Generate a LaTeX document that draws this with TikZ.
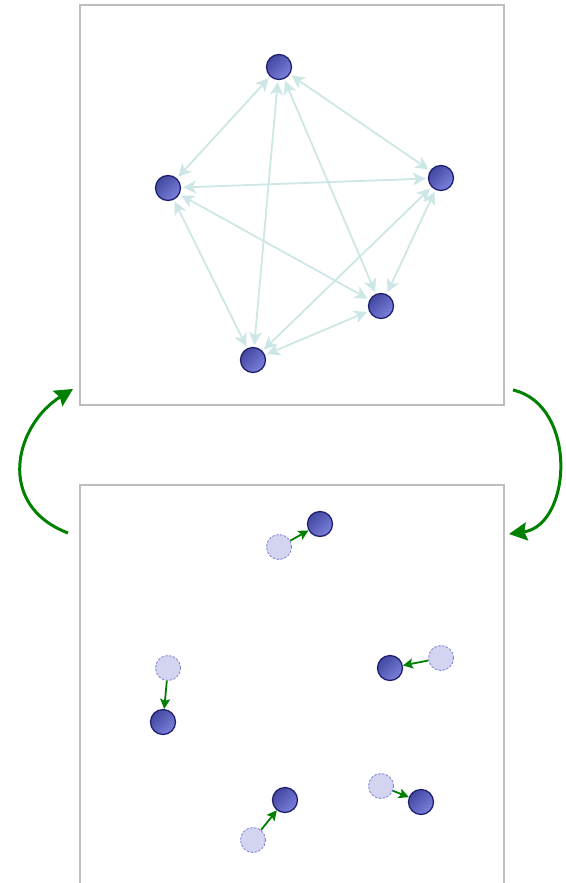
\documentclass[tikz,border=0pt]{standalone}
\usetikzlibrary{arrows.meta}
\definecolor{frame}{HTML}{BDBDBD}
\definecolor{edgec}{HTML}{CDE6E6}
\definecolor{balldark}{HTML}{4247A0}
\definecolor{balllight}{HTML}{7C82DC}
\definecolor{ballrim}{HTML}{202070}
\definecolor{ghostfill}{HTML}{D3D4F0}
\definecolor{ghostrim}{HTML}{7B7CD2}
\definecolor{grn}{HTML}{008000}
\tikzset{
  ball/.style={circle, minimum size=25pt, inner sep=0pt, draw=ballrim, line width=1.3pt,
    top color=balldark, bottom color=balllight, shading angle=45},
  ghost/.style={circle, minimum size=25pt, inner sep=0pt, draw=ghostrim, line width=0.8pt,
    dash pattern=on 2.5pt off 1.5pt, fill=ghostfill},
  frm/.style={draw=frame, line width=2pt},
  edge/.style={draw=edgec, line width=1.8pt, {Stealth[length=13pt,width=13pt,inset=3.5pt]}-{Stealth[length=13pt,width=13pt,inset=3.5pt]}, shorten <=2pt, shorten >=2pt},
  move/.style={draw=grn, line width=1.8pt, -{Stealth[length=10pt,width=10pt,inset=2pt]}},
  cycle/.style={draw=grn, line width=3pt, -{Stealth[length=18pt,width=18pt,inset=2.5pt]}}
}
\begin{document}
\begin{tikzpicture}[x=1pt,y=-1pt]
\useasboundingbox (0,0) rectangle (565,883);
% frames
\draw[frm] (80,5) rectangle (504,405);
\draw[frm] (80,883) -- (80,485) -- (504,485) -- (504,883);
% top graph
\node[ball] (a) at (279,67) {};
\node[ball] (b) at (168,188) {};
\node[ball] (c) at (441,178) {};
\node[ball] (d) at (381,306) {};
\node[ball] (e) at (253,360) {};
\foreach \u/\v in {a/b,a/c,a/d,a/e,b/c,b/d,b/e,c/d,c/e,d/e}
  \draw[edge] (\u) -- (\v);
% bottom: ghosts and moved balls
\node[ghost] (ga) at (279,547) {};
\node[ghost] (gb) at (168,668) {};
\node[ghost] (gc) at (441,658) {};
\node[ghost] (gd) at (381,786) {};
\node[ghost] (ge) at (253,840) {};
\node[ball] (na) at (320,524) {};
\node[ball] (nb) at (163,722) {};
\node[ball] (nc) at (390,668) {};
\node[ball] (nd) at (421,802) {};
\node[ball] (ne) at (285,800) {};
\foreach \g/\n in {ga/na,gb/nb,gc/nc,gd/nd,ge/ne}
  \draw[move] (\g) -- (\n);
% cycle arrows
\coordinate (l0) at (68,533);
\coordinate (l1) at (73,389);
\coordinate (r0) at (513,390);
\coordinate (r1) at (509,534);
\draw[cycle] (l0) .. controls (-5,505) and (15,425) .. (l1);
\draw[cycle] (r0) .. controls (578,405) and (572,525) .. (r1);
\end{tikzpicture}
\end{document}
